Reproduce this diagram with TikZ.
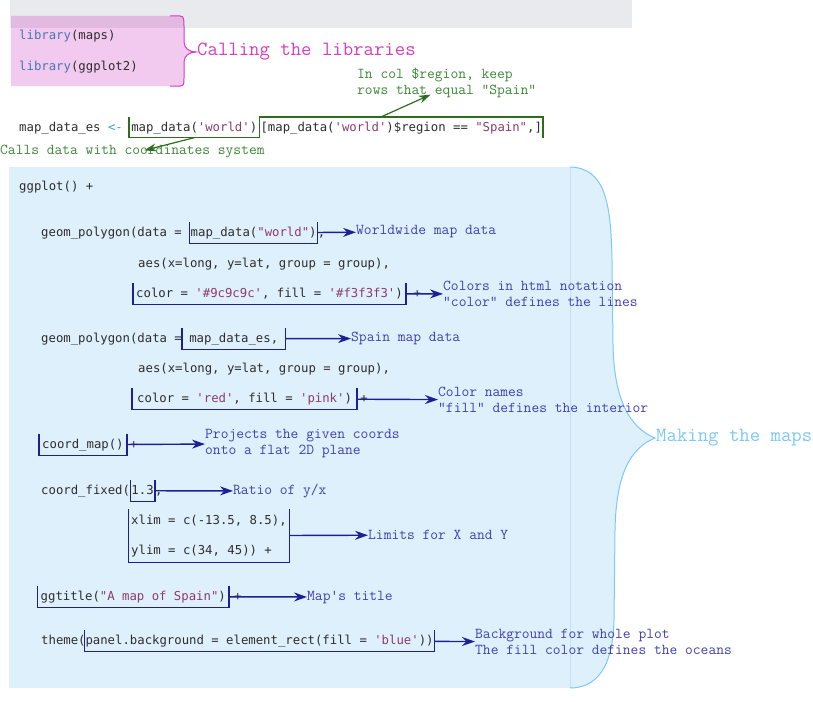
\documentclass[tikz,border=0pt]{standalone}
\usepackage{fontspec}
\newfontfamily\codefont{DejaVu Sans Mono}
\usetikzlibrary{positioning,arrows.meta,fit}
\definecolor{bandgray}{RGB}{233,234,237}
\definecolor{libpink}{RGB}{204,40,192}
\definecolor{libline}{RGB}{214,60,190}
\definecolor{mapblue}{RGB}{223,240,253}
\definecolor{mapline}{RGB}{125,200,248}
\definecolor{mapfaint}{RGB}{190,224,250}
\definecolor{codetext}{RGB}{45,45,45}
\definecolor{codestr}{RGB}{140,60,105}
\definecolor{codekw}{RGB}{70,120,175}
\definecolor{codeassign}{RGB}{50,165,200}
\definecolor{navy}{RGB}{30,30,150}
\definecolor{notetext}{RGB}{64,64,178}
\definecolor{darkgreen}{RGB}{45,110,30}
\definecolor{greentext}{RGB}{60,135,55}
\newcommand{\rstr}[1]{\textcolor{codestr}{#1}}
\newcommand{\codebox}[1]{\draw[boxline] (#1.north west) |- (#1.south east) -- (#1.north east);}
\begin{document}
\begin{tikzpicture}[x=1pt,y=-1pt,
  code/.style={font=\codefont\fontsize{12.3}{15}\selectfont,text=codetext,inner sep=0pt,text height=10pt,text depth=2.5pt,anchor=base west},
  codemark/.style={code,inner xsep=#1,inner ysep=4pt},
  note/.style={font=\ttfamily\fontsize{15.1}{16}\selectfont,text=notetext,align=left,inner sep=0pt},
  gnote/.style={note,text=greentext},
  bignote/.style={font=\ttfamily\fontsize{20.2}{22}\selectfont,inner sep=1pt},
  boxline/.style={draw=navy,line width=1.4pt},
  greenline/.style={draw=darkgreen,line width=1.4pt},
  navyarrow/.style={draw=navy,line width=1.4pt,-{Stealth[length=13pt,width=9pt]}},
  greenarrow/.style={draw=darkgreen,line width=1.2pt,-{Stealth[length=12pt,width=8pt]}}]
\useasboundingbox (0,0) rectangle (813,701);
% libraries
\fill[bandgray] (10,0) rectangle (632,28);
\coordinate (libtip) at (196,52);
\fill[libpink,fill opacity=.25] (11,16) -- (180,16) .. controls (184,16) and (184,20) .. (184,26) -- (184,42) .. controls (184,48) and (189,52) .. (libtip) .. controls (189,52) and (184,56) .. (184,62) -- (184,78) .. controls (184,84) and (184,86) .. (180,86) -- (11,86) -- cycle;
\draw[libline,line width=1pt] (170,16) -- (180,16) .. controls (184,16) and (184,20) .. (184,26) -- (184,42) .. controls (184,48) and (189,52) .. (libtip) .. controls (189,52) and (184,56) .. (184,62) -- (184,78) .. controls (184,84) and (184,86) .. (180,86) -- (170,86);
\node[code] (lib1) at (19,39.5) {\textcolor{codekw}{library}(maps)};
\node[code] (lib2) at (19,70.5) {\textcolor{codekw}{library}(ggplot2)};
\node[bignote,text=libline,anchor=west] (libnote) at (libtip) {Calling the libraries};
% subset of the world data
\node[code] (es) at (19,131) {map\_data\_es \textcolor{codeassign}{<-}};
\node[codemark=2pt,right=6pt of es] (world) {map\_data(\rstr{'world'})};
\node[codemark=1pt,right=0pt of world] (region) {[map\_data(\rstr{'world'})\$region == \rstr{"Spain"},]};
\draw[greenline] (world.north west) |- (world.south east) -- (world.north east);
\draw[greenline] (region.north west) -- (region.north east) -- (region.south east);
\node[gnote,anchor=west] (calls) at (0,152) {Calls data with coordinates system};
\node[gnote,anchor=west] (keep) at (357,83) {In col \$region, keep\\rows that equal "Spain"};
\draw[greenarrow] (world.south) -- ([xshift=12pt,yshift=-5pt]calls.north);
\draw[greenarrow] ([xshift=-20pt]region.north) -- ([xshift=-16pt,yshift=3.5pt]keep.south);
% the plot
\coordinate (maptip) at (655,438);
\fill[mapblue] (9,167) -- (570,167) .. controls (604,168) and (611,200) .. (612,260) -- (613,345) .. controls (614,400) and (630,428) .. (maptip) .. controls (630,448) and (616,475) .. (615,530) -- (614,620) .. controls (613,668) and (596,688) .. (570,688) -- (9,688) -- cycle;
\draw[mapfaint] (570,167) -- (570,688);
\draw[mapline,line width=1pt] (570,167) .. controls (604,168) and (611,200) .. (612,260) -- (613,345) .. controls (614,400) and (630,428) .. (maptip) .. controls (630,448) and (616,475) .. (615,530) -- (614,620) .. controls (613,668) and (596,688) .. (570,688);
\node[bignote,text=mapline,anchor=west] (mapnote) at (maptip) {Making the maps};
\node[code] (gg) at (19,190.5) {ggplot() +};
% world layer
\node[code] (poly1) at (41,236.5) {geom\_polygon(data =};
\node[codemark=1pt,right=7.4pt of poly1] (worldmap) {map\_data(\rstr{"world"})};
\node[code,right=0pt of worldmap] (poly1c) {,};
\node[note,anchor=west] (worldnote) at (356,232) {Worldwide map data};
\codebox{worldmap}
\draw[navyarrow] (worldmap) -- (worldnote);
\node[code] (aes1) at (138,267.5) {aes(x=long, y=lat, group = group),};
\node[codemark=3pt,anchor=base west] (col1) at (133,297.5) {color = \rstr{'\#9c9c9c'}, fill = \rstr{'\#f3f3f3'})};
\node[code,right=7.4pt of col1] (col1p) {+};
\node[note,anchor=west] (htmlnote) at (443,294) {Colors in html notation\\"color" defines the lines};
\codebox{col1}
\draw[navyarrow] (col1) -- (htmlnote);
% spain layer
\node[code] (poly2) at (41,342.5) {geom\_polygon(data =};
\node[codemark=7pt,right=0pt of poly2] (esmap) {map\_data\_es,};
\node[note,anchor=west] (spainnote) at (351,338.5) {Spain map data};
\codebox{esmap}
\draw[navyarrow] (esmap) -- (spainnote);
\node[code] (aes2) at (138,372.5) {aes(x=long, y=lat, group = group),};
\node[codemark=5pt,anchor=base west] (col2) at (132,402.5) {color = \rstr{'red'}, fill = \rstr{'pink'})};
\node[code,right=3pt of col2] (col2p) {+};
\node[note,anchor=west] (namenote) at (438,400) {Color names\\"fill" defines the interior};
\codebox{col2}
\draw[navyarrow] (col2) -- (namenote);
% coordinates
\node[codemark=3pt,anchor=base west] (cmap) at (39,448.5) {coord\_map()};
\node[code,right=3pt of cmap] (cmapp) {+};
\node[note,anchor=west] (projnote) at (205,443.5) {Projects the given coords\\onto a flat 2D plane};
\codebox{cmap}
\draw[navyarrow] (cmap) -- (projnote);
\node[code] (fixed) at (41,494.5) {coord\_fixed(};
\node[codemark=1pt,right=0pt of fixed] (ratio) {1.3};
\node[code,right=0pt of ratio] (ratioc) {,};
\node[note,anchor=west] (rationote) at (233,491) {Ratio of y/x};
\codebox{ratio}
\draw[navyarrow] (ratio) -- (rationote);
\node[code] (xl) at (131,524.5) {xlim = c(-13.5, 8.5),};
\node[code] (yl) at (131,554.5) {ylim = c(34, 45)) +};
\node[fit=(xl)(yl),inner xsep=2.5pt,inner ysep=5pt] (lims) {};
\node[note,anchor=west] (limnote) at (368,535) {Limits for X and Y};
\codebox{lims}
\draw[navyarrow] (lims) -- (limnote);
% title and theme
\node[codemark=3pt,anchor=base west] (title) at (37.5,600.5) {ggtitle(\rstr{"A map of Spain"})};
\node[code,right=5pt of title] (titlep) {+};
\node[note,anchor=west] (titlenote) at (307,597) {Map's title};
\codebox{title}
\draw[navyarrow] (title) -- (titlenote);
\node[code] (theme) at (41,644.5) {theme(};
\node[codemark=1pt,right=-1.5pt of theme] (panel) {panel.background = element\_rect(fill = \rstr{'blue'}))};
\node[note,anchor=west] (backnote) at (475,642) {Background for whole plot\\The fill color defines the oceans};
\codebox{panel}
\draw[navyarrow] (panel) -- (backnote);
\end{tikzpicture}
\end{document}
